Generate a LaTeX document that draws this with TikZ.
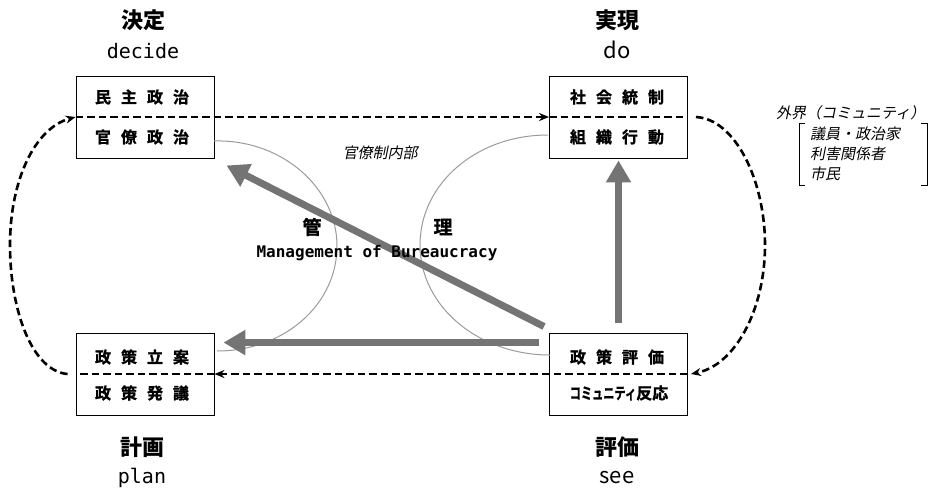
\documentclass[tikz,border=0pt]{standalone}
\usepackage{fontspec}
\usepackage{graphicx}
\usetikzlibrary{arrows.meta,calc}
\newfontfamily\jp{Noto Sans CJK JP}
\newfontfamily\jpheavy[FakeBold=1.2]{Noto Sans CJK JP Bold}
\newfontfamily\jpit[FakeSlant=0.2]{Noto Sans CJK JP}
\newfontfamily\monolat{DejaVu Sans Mono}
\definecolor{arrowgray}{HTML}{747474}
\definecolor{arcgray}{HTML}{9A9A9A}
\newcommand{\gp}{\hspace{10pt}}
\begin{document}
\begin{tikzpicture}[x=1pt,y=-1pt,
  boxnode/.style={draw=black,line width=0.9pt,rectangle,minimum width=138pt,minimum height=82pt,inner sep=0pt},
  boxlbl/.style={font=\jpheavy\fontsize{16}{16}\selectfont,inner sep=0pt},
  ttl/.style={font=\jp\bfseries\fontsize{22}{22}\selectfont,inner sep=0pt},
  latmono/.style={font=\monolat\fontsize{20}{20}\selectfont,inner sep=0pt},
  latprop/.style={font=\jp\fontsize{22}{22}\selectfont,inner sep=0pt},
  dsh/.style={draw=black,line width=2.6pt,dash pattern=on 7.5pt off 4pt},
  dtip/.style={-{Stealth[length=10pt,width=8pt]}},
  garrow/.style={draw=arrowgray,line width=7pt,-{Triangle[width=24pt,length=22pt]}},
  thinarc/.style={draw=arcgray,line width=1pt},
  itl/.style={font=\jpit\fontsize{15}{15}\selectfont,inner sep=0pt,anchor=west}
]
\useasboundingbox (0,0) rectangle (934,493);

% boxes
\node[boxnode] (tl) at (145,117) {};
\node[boxnode] (tr) at (618.5,117) {};
\node[boxnode] (bl) at (145,374) {};
\node[boxnode] (br) at (618.5,374) {};

% box labels
\node[boxlbl] (tl1) at (142,97) {民\gp 主\gp 政\gp 治};
\node[boxlbl] (tl2) at (142,137) {官\gp 僚\gp 政\gp 治};
\node[boxlbl] (tr1) at (617,97) {社\gp 会\gp 統\gp 制};
\node[boxlbl] (tr2) at (617,137) {組\gp 織\gp 行\gp 動};
\node[boxlbl] (bl1) at (142,357) {政\gp 策\gp 立\gp 案};
\node[boxlbl] (bl2) at (142,393) {政\gp 策\gp 発\gp 議};
\node[boxlbl] (br1) at (617,357) {政\gp 策\gp 評\gp 価};
\node[boxlbl] (br2) at (619,393) {\scalebox{0.7}[1]{コミュニティ}反応};

% titles
\node[ttl] (t1) at (143,20) {決定};
\node[latmono] (t1e) at (143,51) {decide};
\node[ttl] (t2) at (617,20) {実現};
\node[latprop] (t2e) at (617,50) {do};
\node[ttl] (t3) at (142,447) {計画};
\node[latmono] (t3e) at (142,478) {plan};
\node[ttl] (t4) at (617,447) {評価};
\node[latprop] (t4e) at (617,478) {see};

% thin gray arcs
\draw[thinarc] (214,141) .. controls (282,139) and (337,188) .. (337,246)
  .. controls (337,304) and (285,351) .. (217,351);
\draw[thinarc] (548,135) .. controls (476,135) and (420,184) .. (420,245)
  .. controls (420,306) and (478,355) .. (550,355);

% gray thick arrows
\draw[garrow] ([yshift=10pt]br.north) -- ([yshift=-2pt]tr.south);
\draw[garrow] ([shift={(-5pt,6pt)}]br.north west) -- ([shift={(12pt,-7pt)}]tl.south east);
\draw[garrow] ([shift={(-10pt,-10pt)}]br.north west) -- ([shift={(9pt,-10pt)}]bl.north east);

% middle texts
\node[font=\jpit\fontsize{15}{15}\selectfont,inner sep=0pt] (inner) at (380,153) {官僚制内部};
\node[font=\jpheavy\fontsize{19}{19}\selectfont,inner sep=0pt] (kan) at (312,227) {管};
\node[font=\jpheavy\fontsize{19}{19}\selectfont,inner sep=0pt] (ri) at (443,227) {理};
\node[font=\monolat\bfseries\fontsize{16}{16}\selectfont,inner sep=0pt] (mgmt) at (377,253) {Management of Bureaucracy};

% dashed cycle
\draw[dsh,dtip] (tl.west) -- (tr.west);
\draw[dsh] (tr.west) -- (tr.east);
\coordinate (rstart) at ([xshift=8pt]tr.east);
\draw[dsh,dtip] (rstart) .. controls (735,119) and (765,180) .. (765,245)
  .. controls (765,310) and (735,365) .. ([xshift=3pt]br.east);
\draw[dsh] (br.east) -- (br.west);
\draw[dsh,dtip] (br.west) -- (bl.east);
\draw[dsh] (bl.east) -- (bl.west);
\coordinate (lstart) at ([xshift=-8pt]bl.west);
\draw[dsh,dtip] (lstart) .. controls (32,371) and (10,310) .. (10,245)
  .. controls (10,180) and (35,128) .. (tl.west);

% external community
\node[itl] (ext) at (776,113) {外界（コミュニティ）};
\node[itl] (e1) at (810,134) {議員・政治家};
\node[itl] (e2) at (810,154) {利害関係者};
\node[itl] (e3) at (810,174) {市民};
\draw[black,line width=0.8pt] (805,123) -- (799,123) -- (799,185) -- (805,185);
\draw[black,line width=0.8pt] (921,123) -- (927,123) -- (927,185) -- (921,185);
\end{tikzpicture}
\end{document}
